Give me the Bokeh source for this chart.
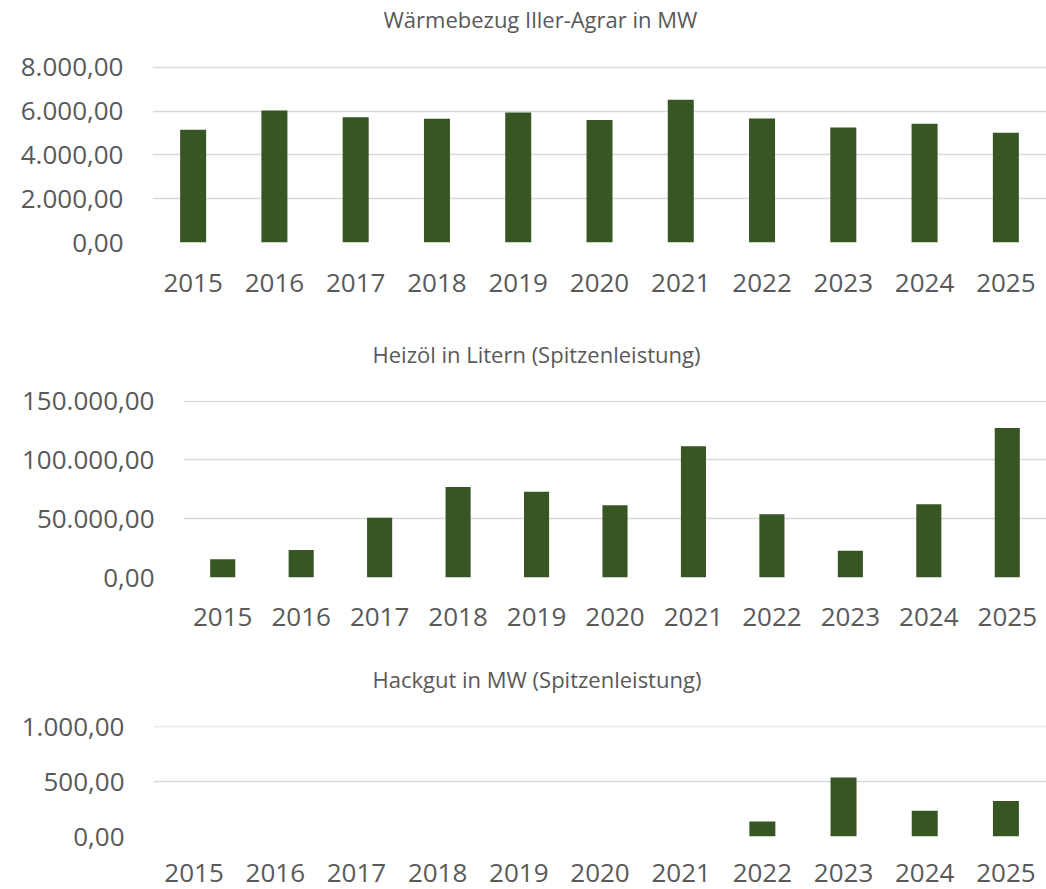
from bokeh.plotting import figure
from bokeh.models import FactorRange, Range1d, FixedTicker, CustomJSTickFormatter, Title
from bokeh.layouts import column
from bokeh.embed import file_html
from bokeh.resources import INLINE

years = ["2015", "2016", "2017", "2018", "2019", "2020", "2021", "2022", "2023", "2024", "2025"]
waermebezug = [5150, 6020, 5720, 5650, 5930, 5590, 6520, 5660, 5250, 5420, 5010]
heizoel = [15600, 23500, 50800, 76900, 72900, 61500, 111700, 53900, 22700, 62400, 127100]
hackgut = [0, 0, 0, 0, 0, 0, 0, 136, 539, 236, 324]

title1 = "Wärmebezug Iller-Agrar in MW"
title2 = "Heizöl in Litern (Spitzenleistung)"
title3 = "Hackgut in MW (Spitzenleistung)"

ticks1 = [0, 2000, 4000, 6000, 8000]
ticks2 = [0, 50000, 100000, 150000]
ticks3 = [0, 500, 1000]

FONT = "Open Sans"
TXT = "#595959"
GRID = "#d9d9d9"
BAR = "#375623"

fmt_code = """
const s = Math.abs(tick).toFixed(2);
const parts = s.split('.');
const i = parts[0].replace(/\\B(?=(\\d{3})+(?!\\d))/g, '.');
return (tick < 0 ? '-' : '') + i + ',' + parts[1];
"""


def build(title, values, ticks, height, b_left, b_bottom, x_standoff, t_offset, gap):
    p = figure(x_range=FactorRange(factors=years, range_padding=0),
               y_range=Range1d(ticks[0], ticks[-1] * 1.004),
               width=1046, height=height, title=None,
               min_border_left=b_left, min_border_right=0,
               min_border_top=0, min_border_bottom=b_bottom,
               output_backend="svg", toolbar_location=None,
               background_fill_color="white", border_fill_color="white")
    p.outline_line_color = None
    p.vbar(x=years, top=values, width=0.32, fill_color=BAR, line_color=None)

    p.xgrid.grid_line_color = None
    p.ygrid.grid_line_color = GRID
    p.ygrid.grid_line_width = 1.3
    p.yaxis.ticker = FixedTicker(ticks=ticks)
    p.yaxis.formatter = CustomJSTickFormatter(code=fmt_code)

    for ax in (p.xaxis[0], p.yaxis[0]):
        ax.axis_line_color = None
        ax.major_tick_line_color = None
        ax.minor_tick_line_color = None
        ax.major_tick_out = 0
        ax.major_tick_in = 0
        ax.major_label_text_font = FONT
        ax.major_label_text_font_size = "26px"
        ax.major_label_text_color = TXT
    p.yaxis.major_label_standoff = 29
    p.xaxis.major_label_standoff = x_standoff

    # spacer between title and plot area (nearest to the frame)
    p.add_layout(Title(text=" ", standoff=gap, text_font=FONT, text_font_size="18px",
                       text_color="white"), "above")
    p.add_layout(Title(text=title, align="left", offset=t_offset, standoff=3,
                       text_font=FONT, text_font_size="22px",
                       text_font_style="normal", text_color=TXT), "above")
    return p


# fig1: page y 0..335, frame 66..242
p1 = build(title1, waermebezug, ticks1, 335, 152, 93, 31, 231, 4.5)
# fig2: page y 335..660, frame 400..577
p2 = build(title2, heizoel, ticks2, 325, 183, 83, 30, 189, 3.5)
# fig3: page y 660..889, frame 726..836
p3 = build(title3, hackgut, ticks3, 229, 153, 53, 27, 219, 4.5)

layout = column(column(p1), column(p2), column(p3), spacing=0)

open("out.html", "w").write(file_html(layout, INLINE))
